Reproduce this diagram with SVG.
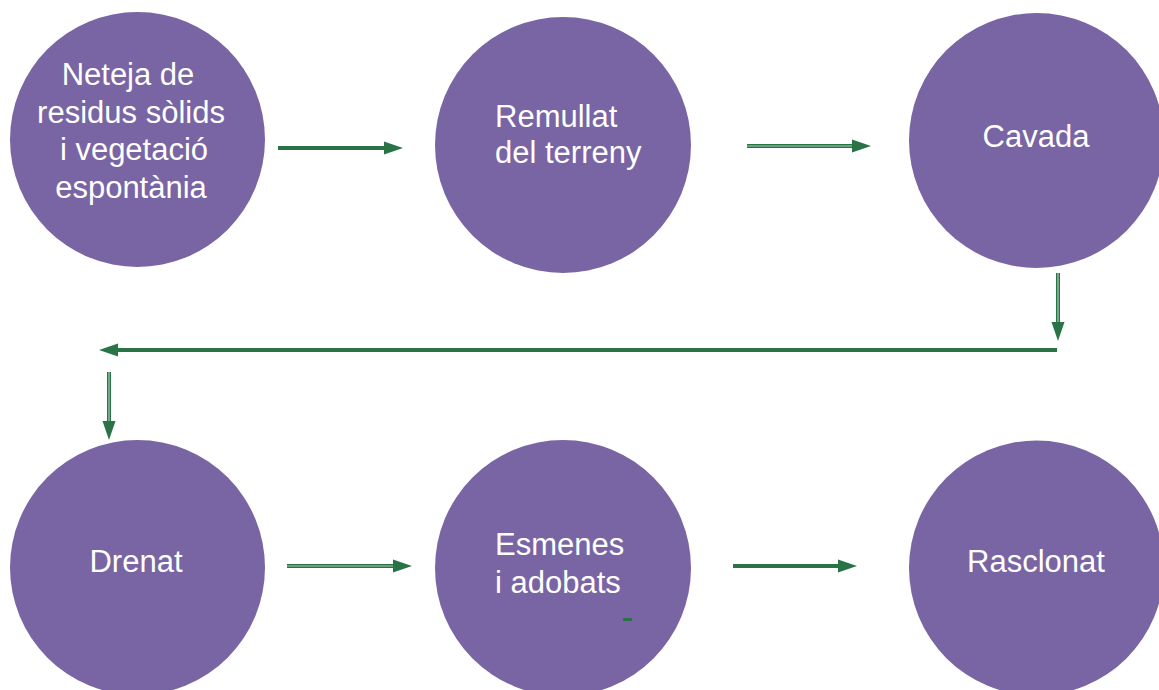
<svg xmlns="http://www.w3.org/2000/svg" width="1159" height="690" viewBox="0 0 1159 690">
  <style>
    .node { fill: #7964A4; }
    .lbl { font-family: "Liberation Sans", Arial, sans-serif; font-size: 31px; fill: #FFFFFF; }
    .solid { fill: none; stroke: #2A7346; stroke-width: 4; }
    .dbl { fill: none; stroke: #2A7346; stroke-width: 4; }
    .dblin { fill: none; stroke: #A9CDB4; stroke-width: 1.2; }
  </style>
  <defs>
    <marker id="ah" markerUnits="userSpaceOnUse" markerWidth="20" markerHeight="14" refX="0" refY="6.5" orient="auto" overflow="visible">
      <path d="M0,0 L19,6.5 L0,13 Z" fill="#2A7346"/>
    </marker>
  </defs>
  <rect width="1159" height="690" fill="#FFFFFF"/>

  <g id="n1">
    <circle class="node" cx="137.5" cy="139.5" r="127.5"/>
    <text class="lbl" text-anchor="middle"><tspan x="128" y="85">Neteja de</tspan><tspan x="131" y="122.5">residus sòlids</tspan><tspan x="134" y="160">i vegetació</tspan><tspan x="131" y="197.5">espontània</tspan></text>
  </g>
  <g id="n2">
    <circle class="node" cx="563" cy="145" r="128"/>
    <text class="lbl"><tspan x="495" y="127">Remullat</tspan><tspan x="495" y="163">del terreny</tspan></text>
  </g>
  <g id="n3">
    <circle class="node" cx="1036.5" cy="140.5" r="127.5"/>
    <text class="lbl" x="1036" y="147" text-anchor="middle">Cavada</text>
  </g>
  <g id="n4">
    <circle class="node" cx="137.5" cy="567.5" r="127.5"/>
    <text class="lbl" x="136" y="572" text-anchor="middle">Drenat</text>
  </g>
  <g id="n5">
    <circle class="node" cx="563" cy="568" r="128"/>
    <text class="lbl"><tspan x="495" y="555">Esmenes</tspan><tspan x="495" y="593">i adobats</tspan></text>
    <rect x="623" y="618" width="9" height="3" fill="#2A7346"/>
  </g>
  <g id="n6">
    <circle class="node" cx="1036.5" cy="568" r="127.5"/>
    <text class="lbl" x="1036" y="572" text-anchor="middle">Rasclonat</text>
  </g>

  <g id="connectors">
    <path class="solid" d="M278,148 L384,148" marker-end="url(#ah)"/>
    <path class="dbl" d="M747,146 L852,146" marker-end="url(#ah)"/>
    <path class="dblin" d="M747,146 L852,146"/>
    <path class="dbl" d="M1058,273 L1058,322" marker-end="url(#ah)"/>
    <path class="dblin" d="M1058,273 L1058,322"/>
    <path class="solid" d="M1057,350 L118,350" marker-end="url(#ah)"/>
    <path class="dbl" d="M109,372 L109,421" marker-end="url(#ah)"/>
    <path class="dblin" d="M109,372 L109,421"/>
    <path class="dbl" d="M287,566 L393,566" marker-end="url(#ah)"/>
    <path class="dblin" d="M287,566 L393,566"/>
    <path class="solid" d="M733,566 L838,566" marker-end="url(#ah)"/>
  </g>
</svg>
